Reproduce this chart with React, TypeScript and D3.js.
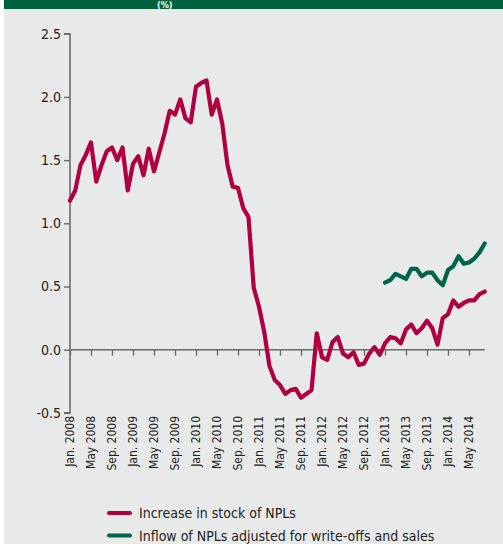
import { useEffect, useRef } from 'react';
import * as d3 from 'd3';

// monthly values, Jan. 2008 - Aug. 2014
const stockIncrease = [
  1.18, 1.26, 1.46, 1.54, 1.64, 1.33, 1.46, 1.57, 1.60, 1.50, 1.60, 1.26,
  1.47, 1.53, 1.38, 1.59, 1.41, 1.56, 1.71, 1.89, 1.86, 1.98, 1.83, 1.80,
  2.08, 2.11, 2.13, 1.86, 1.98, 1.79, 1.46, 1.29, 1.28, 1.12, 1.05, 0.49,
  0.34, 0.14, -0.13, -0.24, -0.28, -0.35, -0.32, -0.31, -0.38, -0.35, -0.32, 0.13,
  -0.06, -0.08, 0.06, 0.10, -0.03, -0.06, -0.02, -0.12, -0.11, -0.03, 0.02, -0.04,
  0.05, 0.10, 0.09, 0.05, 0.16, 0.20, 0.13, 0.17, 0.23, 0.17, 0.04, 0.25,
  0.28, 0.39, 0.34, 0.37, 0.39, 0.39, 0.44, 0.46,
];

// starts Jan. 2013 (month index 60)
const inflowStart = 60;
const inflowAdjusted = [
  0.53, 0.55, 0.60, 0.58, 0.56, 0.64, 0.64, 0.58, 0.61, 0.61, 0.55, 0.51,
  0.63, 0.66, 0.74, 0.68, 0.69, 0.72, 0.77, 0.84,
];

const tickLabels = [
  'Jan. 2008', 'May 2008', 'Sep. 2008', 'Jan. 2009', 'May 2009', 'Sep. 2009',
  'Jan. 2010', 'May 2010', 'Sep. 2010', 'Jan. 2011', 'May 2011', 'Sep. 2011',
  'Jan. 2012', 'May 2012', 'Sep. 2012', 'Jan. 2013', 'May 2013', 'Sep. 2013',
  'Jan. 2014', 'May 2014',
];

const yTicks = [-0.5, 0, 0.5, 1.0, 1.5, 2.0, 2.5];

const seriesNames = [
  'Increase in stock of NPLs',
  'Inflow of NPLs adjusted for write-offs and sales',
];

const RED = '#b0003f';
const GREEN = '#006548';
const AXIS = '#6b6b6b';
const FONT = "'DejaVu Sans Condensed', 'Open Sans', sans-serif";

export default function App() {
  const svgRef = useRef<SVGSVGElement>(null);
  const width = 503;
  const height = 544;

  useEffect(() => {
    const svg = d3.select(svgRef.current);
    svg.selectAll('*').remove();

    // background + header band
    svg.append('rect').attr('width', width).attr('height', height).attr('fill', '#ffffff');
    svg.append('rect').attr('x', 4).attr('y', 9).attr('width', width - 4).attr('height', height - 9).attr('fill', '#e8e9e9');
    svg.append('rect').attr('x', 4).attr('y', 0).attr('width', width - 4).attr('height', 9).attr('fill', '#00613f');
    svg.append('text')
      .attr('x', 157).attr('y', 7.5)
      .style('font-family', FONT).style('font-size', '9px').style('font-weight', 'bold')
      .attr('fill', '#ffffff').text('(%)');

    const xScale = d3.scaleLinear().domain([0, stockIncrease.length - 1]).range([70, 484.75]);
    const yScale = d3.scaleLinear().domain([-0.5, 2.5]).range([412.9, 33.7]);

    // y axis
    const yAxis = svg.append('g')
      .attr('transform', `translate(${xScale(0)},0)`)
      .call(d3.axisLeft(yScale).tickValues(yTicks).tickSize(6)
        .tickFormat(d => (d as number).toFixed(1)));
    yAxis.select('.domain').attr('stroke', AXIS).attr('stroke-width', 1.6).attr('d', `M-6,${yScale(-0.5)}H0V${yScale(2.5)}H-6`);
    yAxis.selectAll('.tick line').attr('stroke', AXIS).attr('stroke-width', 1.4);
    yAxis.selectAll('.tick text')
      .attr('x', -9)
      .style('font-family', FONT).style('font-size', '14px').attr('fill', '#231f20');

    // x axis on the zero line
    const tickIdx = tickLabels.map((_, i) => i * 4);
    const xAxis = svg.append('g')
      .attr('transform', `translate(0,${yScale(0)})`)
      .call(d3.axisBottom(xScale).tickValues(tickIdx).tickSize(6).tickFormat(() => ''));
    xAxis.select('.domain').attr('stroke', AXIS).attr('stroke-width', 1.4).attr('d', `M${xScale(0)},0H${xScale(stockIncrease.length - 1)}`);
    xAxis.selectAll('.tick line').attr('stroke', AXIS).attr('stroke-width', 1.4);

    // rotated month labels below the plot
    svg.selectAll('.xlabel')
      .data(tickLabels)
      .enter().append('text')
      .attr('class', 'xlabel')
      .attr('transform', (_, i) => `translate(${xScale(i * 4) + 4.3},${yScale(-0.5) + 3}) rotate(-90)`)
      .attr('text-anchor', 'end')
      .style('font-family', FONT).style('font-size', '12px')
      .attr('fill', '#231f20')
      .text(d => d);

    const line = d3.line<number>()
      .x((_, i) => xScale(i))
      .y(d => yScale(d));

    svg.append('path')
      .datum(stockIncrease)
      .attr('fill', 'none').attr('stroke', RED).attr('stroke-width', 4.2)
      .attr('stroke-linejoin', 'round').attr('stroke-linecap', 'round')
      .attr('d', line);

    const lineGreen = d3.line<number>()
      .x((_, i) => xScale(i + inflowStart))
      .y(d => yScale(d));

    svg.append('path')
      .datum(inflowAdjusted)
      .attr('fill', 'none').attr('stroke', GREEN).attr('stroke-width', 4.2)
      .attr('stroke-linejoin', 'round').attr('stroke-linecap', 'round')
      .attr('d', lineGreen);

    // legend
    const legend = svg.append('g').attr('transform', 'translate(109,513)');
    [RED, GREEN].forEach((c, i) => {
      legend.append('line')
        .attr('x1', 0).attr('x2', 21).attr('y1', i * 22.5).attr('y2', i * 22.5)
        .attr('stroke', c).attr('stroke-width', 4).attr('stroke-linecap', 'round');
      legend.append('text')
        .attr('x', 30).attr('y', i * 22.5 + 5)
        .style('font-family', FONT).style('font-size', '14px')
        .attr('fill', '#231f20')
        .text(seriesNames[i]);
    });
  }, []);

  return (
    <div style={{ position: 'absolute', left: 0, top: 0 }}>
      <svg ref={svgRef} width={width} height={height} style={{ display: 'block' }} />
    </div>
  );
}
